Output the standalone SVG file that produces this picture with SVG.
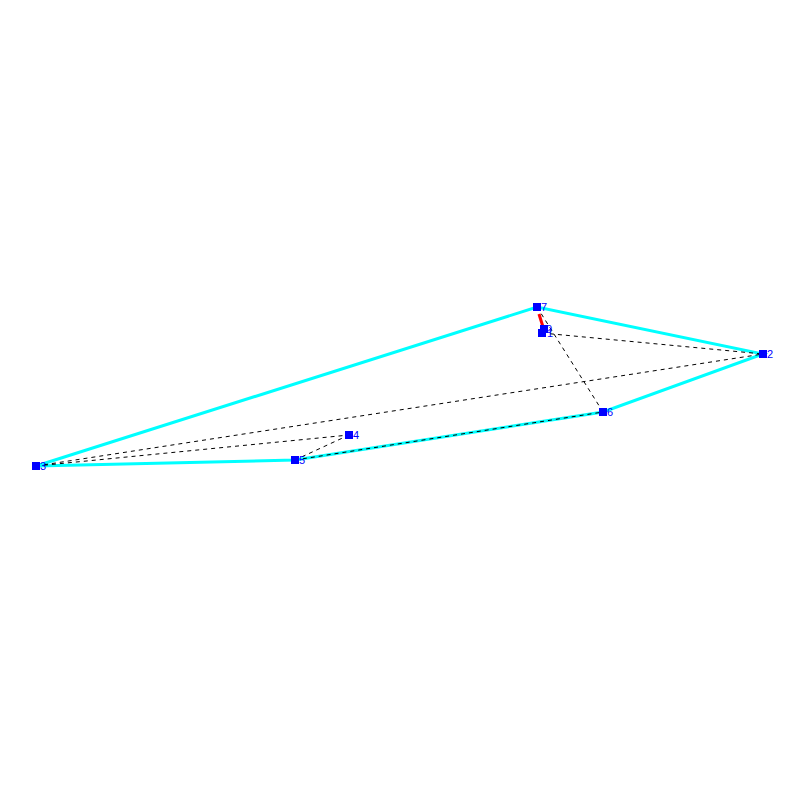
<svg xmlns="http://www.w3.org/2000/svg" width="800" height="800" viewBox="0 0 800 800">
<style>
.hull{stroke:#00ffff;stroke-width:3;fill:none}
.dash{stroke:#000;stroke-width:1;stroke-dasharray:4,4;fill:none}
.red{stroke:#ff0000;stroke-width:3}
.n rect{fill:#0000ff}
.n text{fill:#0000ff;font-family:"Liberation Sans",Arial,sans-serif;font-size:11px}
</style>
<rect width="800" height="800" fill="#fff"/>
<g id="connectors">
<polygon class="hull" points="36,466 537,307 763,354 603,412 295,460"/>
<line class="dash" x1="36" y1="466" x2="763" y2="354"/>
<line class="dash" x1="36" y1="466" x2="349" y2="435"/>
<line class="dash" x1="349" y1="435" x2="295" y2="460"/>
<line class="dash" x1="295" y1="460" x2="603" y2="412"/>
<line class="dash" x1="542" y1="333" x2="763" y2="354"/>
<line class="dash" x1="537" y1="307" x2="603" y2="412"/>
<line class="red" x1="539" y1="314" x2="543" y2="327"/>
</g>
<g id="node0" class="n"><rect x="540" y="325" width="8" height="8"/><text x="546" y="333">0</text></g>
<g id="node1" class="n"><rect x="538" y="329" width="8" height="8"/><text x="547" y="337">1</text></g>
<g id="node2" class="n"><rect x="759" y="350" width="8" height="8"/><text x="767" y="358">2</text></g>
<g id="node3" class="n"><rect x="32" y="462" width="8" height="8"/><text x="40" y="470">3</text></g>
<g id="node4" class="n"><rect x="345" y="431" width="8" height="8"/><text x="353" y="439">4</text></g>
<g id="node5" class="n"><rect x="291" y="456" width="8" height="8"/><text x="299" y="464">5</text></g>
<g id="node6" class="n"><rect x="599" y="408" width="8" height="8"/><text x="607" y="416">6</text></g>
<g id="node7" class="n"><rect x="533" y="303" width="8" height="8"/><text x="541" y="311">7</text></g>
</svg>
